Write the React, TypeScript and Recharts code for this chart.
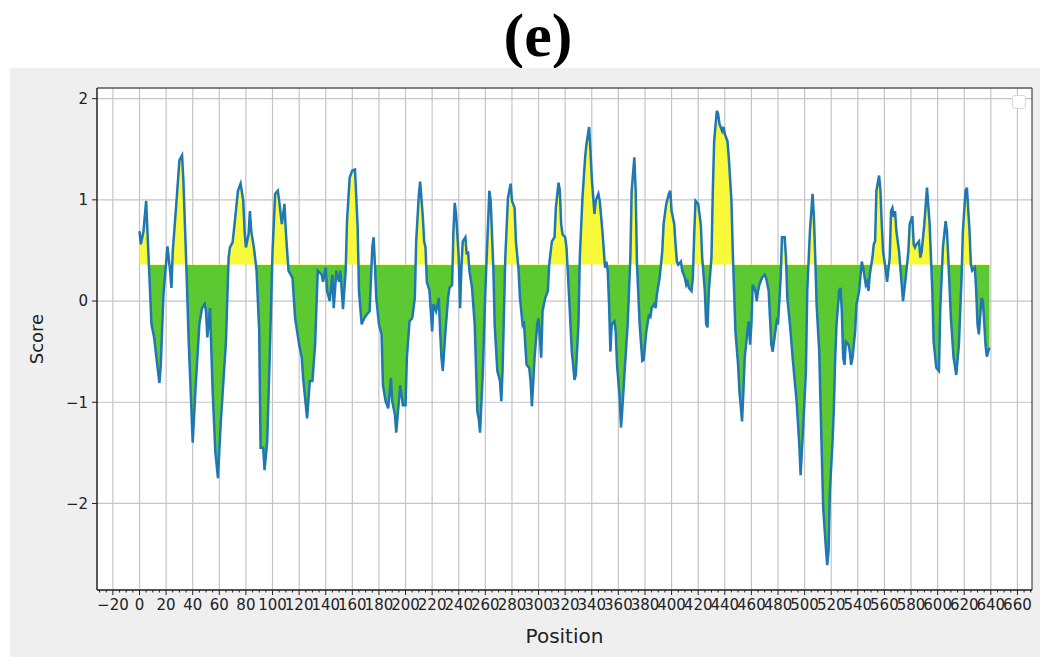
import { ComposedChart, Area, Line, XAxis, YAxis, CartesianGrid, Label, ReferenceArea } from 'recharts';

// residue positions and smoothed score
const positions = [
  0, 1, 3, 5, 6, 9, 11, 13, 15, 16, 18, 21, 23, 24, 25, 28, 30, 32, 33, 35, 37, 40, 42, 45, 47, 49, 50, 51, 53, 55, 57, 59, 61, 65, 67,
  68, 70, 72, 74, 76, 78, 79, 80, 82, 83, 84, 86, 88, 90, 91, 93, 94, 96, 98, 100, 102, 104, 105, 107, 109, 110, 112, 115, 117, 120,
  122, 123, 126, 128, 130, 132, 134, 137, 138, 140, 141, 143, 145, 146, 148, 150, 151, 153, 155, 156, 158, 160, 162, 164, 165, 167,
  169, 171, 173, 175, 176, 177, 178, 180, 182, 183, 185, 187, 189, 190, 192, 193, 195, 196, 198, 200, 201, 203, 205, 207, 208, 210,
  211, 213, 214, 215, 216, 218, 220, 221, 223, 225, 226, 227, 228, 230, 232, 233, 235, 236, 237, 238, 240, 241, 242, 243, 245, 246,
  247, 248, 250, 252, 254, 255, 256, 258, 260, 262, 263, 264, 266, 267, 269, 271, 272, 273, 275, 277, 279, 280, 282, 283, 285, 286,
  288, 289, 290, 291, 293, 294, 295, 297, 299, 300, 302, 303, 305, 307, 308, 310, 312, 313, 315, 316, 317, 318, 320, 321, 323, 325,
  326, 327, 328, 330, 331, 333, 335, 336, 338, 339, 340, 342, 343, 345, 346, 348, 350, 351, 352, 353, 354, 355, 357, 358, 359, 361,
  362, 363, 365, 367, 369, 370, 372, 373, 374, 376, 378, 379, 381, 383, 384, 385, 387, 388, 389, 391, 393, 394, 396, 398, 399, 400,
  402, 403, 404, 405, 407, 408, 410, 411, 412, 413, 415, 416, 417, 418, 420, 422, 423, 425, 426, 427, 428, 430, 431, 432, 434, 435,
  436, 438, 439, 440, 442, 443, 445, 446, 447, 448, 450, 451, 453, 454, 455, 457, 458, 459, 460, 461, 463, 464, 465, 466, 468, 470,
  471, 473, 474, 475, 476, 478, 479, 480, 482, 483, 485, 486, 487, 489, 491, 493, 494, 496, 497, 499, 501, 502, 504, 506, 507, 508,
  509, 511, 512, 513, 514, 516, 517, 518, 519, 521, 522, 523, 524, 526, 527, 528, 529, 530, 531, 533, 534, 535, 536, 538, 539, 540,
  541, 543, 544, 546, 547, 548, 549, 551, 552, 553, 554, 556, 557, 558, 559, 561, 562, 564, 565, 566, 567, 568, 569, 571, 573, 574,
  576, 578, 579, 581, 582, 583, 584, 586, 587, 588, 590, 592, 594, 596, 597, 599, 601, 602, 604, 606, 607, 608, 610, 612, 614, 616,
  618, 619, 621, 622, 624, 625, 626, 628, 629, 630, 631, 633, 634, 635, 636, 637, 638, 639,
];

const scores = [
  0.69, 0.56, 0.69, 0.99, 0.68, -0.23, -0.36, -0.59, -0.81, -0.63, 0.06, 0.54, 0.3, 0.13, 0.49, 1.02, 1.39, 1.44, 1.19, 0.43, -0.4, -1.4, -0.89, -0.23, -0.07, -0.03, -0.1, -0.36, -0.07, -0.89, -1.49, -1.75, -1.22, -0.4, 0.43,
  0.53, 0.58, 0.83, 1.09, 1.16, 0.99, 0.69, 0.53, 0.66, 0.89, 0.69, 0.53, 0.3, -0.3, -1.45, -1.45, -1.67, -1.39, -0.5, 0.49, 1.06, 1.09, 0.99, 0.76, 0.96, 0.69, 0.3, 0.23, -0.17, -0.43,
  -0.56, -0.76, -1.16, -0.79, -0.79, -0.43, 0.3, 0.26, 0.19, 0.33, 0.1, 0.0, 0.26, -0.07, 0.3, 0.19, 0.3, -0.08, 0.3, 0.79, 1.22, 1.29, 1.3, 0.73, 0.1, -0.23,
  -0.17, -0.13, -0.1, 0.53, 0.63, 0.36, 0.03, -0.23, -0.33, -0.83, -0.99, -1.06, -0.76, -0.99, -1.12, -1.3, -0.99, -0.83, -1.03, -1.03, -0.56, -0.2, -0.17, 0.03, 0.59, 1.05,
  1.18, 0.83, 0.59, 0.53, 0.19, 0.1, -0.3, -0.03, -0.1, 0.03, -0.3, -0.56, -0.69, -0.3, 0.03, 0.13, 0.16, 0.69, 0.97, 0.86, 0.43, -0.07, 0.33, 0.59, 0.63, 0.46,
  0.49, 0.3, 0.13, -0.23, -1.09, -1.16, -1.3, -0.73, 0.1, 0.76, 1.09, 0.99, 0.33, -0.23, -0.69, -0.79, -0.99, -0.66, 0.43, 1.02, 1.16, 0.99, 0.92, 0.59, 0.3, 0.03,
  -0.23, -0.2, -0.43, -0.63, -0.66, -0.79, -1.04, -0.56, -0.23, -0.17, -0.56, -0.1, 0.03, 0.1, 0.36, 0.59, 0.63, 0.92, 1.17, 1.09, 0.76, 0.66, 0.63, 0.53, 0.03, -0.5,
  -0.63, -0.78, -0.73, -0.23, 0.43, 1.02, 1.42, 1.55, 1.72, 1.49, 1.22, 0.86, 0.99, 1.06, 0.99, 0.69, 0.33, 0.39, 0.3, -0.03, -0.5, -0.23, -0.2, -0.3, -0.63, -0.96,
  -1.25, -1.06, -0.63, -0.23, 0.43, 1.09, 1.42, 1.09, 0.36, -0.23, -0.59, -0.58, -0.3, -0.13, -0.17, -0.07, -0.03, -0.07, 0.07, 0.23, 0.49, 0.76, 0.96, 1.06, 1.09, 0.89,
  0.76, 0.56, 0.39, 0.36, 0.39, 0.3, 0.23, 0.16, 0.19, 0.13, 0.1, 0.23, 0.66, 0.99, 0.96, 0.75, 0.43, 0.1, -0.23, -0.26, 0.1, 0.43, 1.09, 1.58, 1.88, 1.85,
  1.75, 1.68, 1.72, 1.65, 1.58, 1.42, 0.99, 0.49, 0.1, -0.3, -0.63, -0.89, -1.19, -0.89, -0.56, -0.3, -0.2, -0.43, -0.23, 0.16, 0.1, 0.0, 0.1, 0.16, 0.23, 0.26,
  0.23, 0.1, -0.17, -0.43, -0.5, -0.3, -0.2, -0.23, 0.23, 0.63, 0.63, 0.43, 0.03, -0.23, -0.56, -0.85, -0.99, -1.42, -1.72, -1.22, -0.69, 0.1, 0.69, 1.06, 0.83, 0.43,
  -0.03, -0.5, -1.03, -1.55, -2.05, -2.44, -2.61, -2.47, -1.88, -1.39, -1.06, -0.56, -0.23, 0.1, 0.13, -0.1, -0.56, -0.63, -0.4, -0.43, -0.5, -0.63, -0.56, -0.3, -0.03, 0.03,
  0.1, 0.39, 0.33, 0.16, 0.19, 0.1, 0.26, 0.43, 0.56, 0.59, 1.09, 1.24, 1.09, 0.76, 0.49, 0.3, 0.19, 0.43, 0.89, 0.92, 0.83, 0.89, 0.69, 0.49, 0.16, 0.0,
  0.23, 0.49, 0.76, 0.84, 0.56, 0.53, 0.56, 0.59, 0.43, 0.49, 0.76, 1.12, 0.76, 0.1, -0.4, -0.66, -0.69, -0.07, 0.53, 0.79, 0.69, 0.43, -0.17, -0.56, -0.73, -0.43,
  0.23, 0.69, 1.09, 1.12, 0.69, 0.36, 0.3, 0.33, 0.1, -0.23, -0.33, 0.03, 0.0, -0.2, -0.43, -0.55, -0.5, -0.46,
];

const xTicks = [
  -20, 0, 20, 40, 60, 80, 100, 120, 140, 160, 180, 200, 220, 240, 260, 280, 300, 320, 340, 360, 380, 400, 420, 440, 460, 480, 500,
  520, 540, 560, 580, 600, 620, 640, 660,
];
// minor tick marks every 5 units between the labelled ones
const xAllTicks = Array.from({ length: 141 }, (_, i) => -30 + i * 5);
const yTicks = [-2, -1, 0, 1, 2];

const THRESHOLD = 0.36;
const X_DOMAIN: [number, number] = [-31.95, 670.95];
const Y_DOMAIN: [number, number] = [-2.855, 2.105];

const data = positions.map((p, i) => ({ pos: p, score: scores[i] }));

const maxScore = Math.max(...scores);
const minScore = Math.min(...scores);
const splitOffset = (maxScore - THRESHOLD) / (maxScore - minScore);

const fmt = (v: number) => (v < 0 ? '\u2212' + Math.abs(v) : String(v));

const FONT = '"DejaVu Sans", sans-serif';
const INK = '#222';
const TICK_SIZE = 5;
const TICK_MARGIN = 4;

const XTick = (props: any) => {
  const { x, y, payload } = props;
  const v = payload.value;
  const major = xTicks.includes(v);
  const axisY = y - TICK_SIZE - TICK_MARGIN;
  return (
    <g>
      <line x1={x} x2={x} y1={axisY} y2={axisY + (major ? TICK_SIZE : 2.5)} stroke={INK} strokeWidth={1} />
      {major && (
        <text x={x} y={y} dy="0.71em" textAnchor="middle" fill={INK} fontSize={15}>
          {fmt(v)}
        </text>
      )}
    </g>
  );
};

const gridX = ({ xAxis, offset }: any) => {
  if (xAxis && typeof xAxis.scale === 'function') return xTicks.map((t) => xAxis.scale(t));
  return xTicks.map((t) => offset.left + ((t - X_DOMAIN[0]) / (X_DOMAIN[1] - X_DOMAIN[0])) * offset.width);
};

export default function App() {
  return (
    <div style={{ position: 'absolute', left: 0, top: 0, width: 1040, height: 657, background: '#fff', overflow: 'hidden' }}>
      <div
        style={{
          position: 'absolute',
          left: 0,
          top: -1,
          width: 1076,
          textAlign: 'center',
          fontFamily: '"Liberation Serif", "Times New Roman", serif',
          fontWeight: 'bold',
          fontSize: 62,
          lineHeight: '72px',
        }}
      >
        (e)
      </div>
      <div style={{ position: 'absolute', left: 10, top: 68, width: 1030, height: 589, background: '#efefef' }}>
        <ComposedChart
          width={1030}
          height={589}
          data={data}
          margin={{ top: 20, right: 8, bottom: 0, left: 17 }}
          style={{ fontFamily: FONT }}
        >
          <defs>
            <linearGradient id="splitFill" x1="0" y1="0" x2="0" y2="1">
              <stop offset={splitOffset} stopColor="#f9f93c" />
              <stop offset={splitOffset} stopColor="#5cc832" />
            </linearGradient>
          </defs>
          <CartesianGrid stroke="#c4c4c4" strokeWidth={1.2} fill="#fff" verticalCoordinatesGenerator={gridX} />
          <XAxis
            dataKey="pos"
            type="number"
            domain={X_DOMAIN}
            ticks={xAllTicks}
            interval={0}
            allowDataOverflow
            height={67}
            tickSize={TICK_SIZE}
            tickMargin={TICK_MARGIN}
            tickLine={false}
            stroke={INK}
            tick={<XTick />}
          >
            <Label value="Position" position="insideBottom" offset={14} fill={INK} fontSize={20} />
          </XAxis>
          <YAxis
            type="number"
            domain={Y_DOMAIN}
            ticks={yTicks}
            interval={0}
            allowDataOverflow
            tickFormatter={fmt}
            width={70}
            tickSize={TICK_SIZE}
            tickMargin={TICK_MARGIN}
            stroke={INK}
            tick={{ fill: INK, fontSize: 15 }}
          >
            <Label value="Score" angle={-90} position="insideLeft" offset={10} fill={INK} fontSize={18} style={{ textAnchor: 'middle' }} />
          </YAxis>
          <Area
            dataKey="score"
            type="linear"
            baseValue={THRESHOLD}
            stroke="none"
            fill="url(#splitFill)"
            fillOpacity={1}
            isAnimationActive={false}
          />
          <Line dataKey="score" type="linear" stroke="#1f77b4" strokeWidth={2.5} dot={false} isAnimationActive={false} />
          <ReferenceArea
            x1={X_DOMAIN[0]}
            x2={X_DOMAIN[1]}
            y1={Y_DOMAIN[0]}
            y2={Y_DOMAIN[1]}
            fill="none"
            fillOpacity={0}
            stroke={INK}
            strokeWidth={1}
          />
        </ComposedChart>
      </div>
      <div
        style={{
          position: 'absolute',
          left: 1012,
          top: 95,
          width: 12,
          height: 12,
          background: '#fff',
          border: '1px solid #d8d8d8',
          borderRadius: 3,
        }}
      />
    </div>
  );
}
